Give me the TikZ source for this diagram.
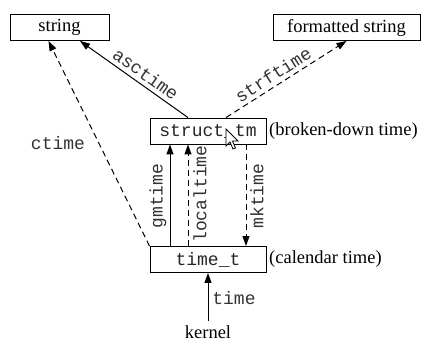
\documentclass[tikz,border=0pt]{standalone}
\usepackage{fontspec}
\setmainfont{Liberation Serif}
\setmonofont{Liberation Mono}
\usetikzlibrary{arrows.meta}
\begin{document}
\begin{tikzpicture}[x=1pt,y=-1pt,
  box/.style={draw, line width=0.9pt, inner sep=0pt, minimum height=26pt, font=\fontsize{18.5}{20}\selectfont},
  mbox/.style={box, font=\fontsize{18}{20}\ttfamily, text=black!85},
  lbl/.style={font=\fontsize{18}{20}\ttfamily, text=black!80, inner sep=1pt},
  note/.style={font=\fontsize{18.5}{20}\selectfont, inner sep=0pt, anchor=west},
  conn/.style={line width=1pt, -{Triangle[length=10pt,width=7pt]}},
  dconn/.style={conn, dash pattern=on 6pt off 4pt}]
\useasboundingbox (0,0) rectangle (432,340);
\node[box, minimum width=99pt] (str) at (59.5,27.5) {string};
\node[box, minimum width=147pt] (fstr) at (346.5,27.5) {formatted string};
\node[mbox, minimum width=116pt] (stm) at (208,131) {struct\_tm};
\node[mbox, minimum width=116pt] (tt) at (208,259.5) {time\_t};
\node[note] (bdt) at (269,131) {(broken-down time)};
\node[note] (cal) at (269,259.5) {(calendar time)};
\node[font=\fontsize{18.5}{20}\selectfont, inner sep=3.5pt, anchor=base] (kern) at (208,338) {kernel};
% connectors
\draw[conn] ([xshift=-20pt]stm.north) -- node[lbl, sloped, above=3pt, pos=0.45] (lasc) {asctime} ([xshift=20.5pt]str.south);
\draw[dconn] ([xshift=18pt]stm.north) -- node[lbl, sloped, above=3pt, pos=0.44] (lstrf) {strftime} (fstr.south);
\draw[dconn] (tt.north west) -- ([xshift=-11pt]str.south);
\node[lbl] (lct) at (58,143) {ctime};
\draw[conn] ([xshift=-38pt]tt.north) -- ([xshift=-38pt]stm.south);
\draw[dconn] ([xshift=-20pt]tt.north) -- ([xshift=-20pt]stm.south);
\draw[dconn] ([xshift=38pt]stm.south) -- ([xshift=38pt]tt.north);
\node[lbl, rotate=90] (lgm) at (158,196) {gmtime};
\node[lbl, rotate=90] (llt) at (200,194) {localtime};
\node[lbl, rotate=90] (lmk) at (257,196) {mktime};
\draw[conn] (kern.north) -- (tt.south);
\node[lbl] (ltime) at (234,298) {time};
% mouse cursor
\draw[fill=white, line width=0.8pt, line join=miter] (226,129) -- ++(0,17) -- ++(4,-4) -- ++(3,7) -- ++(2.5,-1) -- ++(-3,-7) -- ++(5.5,0) -- cycle;
\end{tikzpicture}
\end{document}
